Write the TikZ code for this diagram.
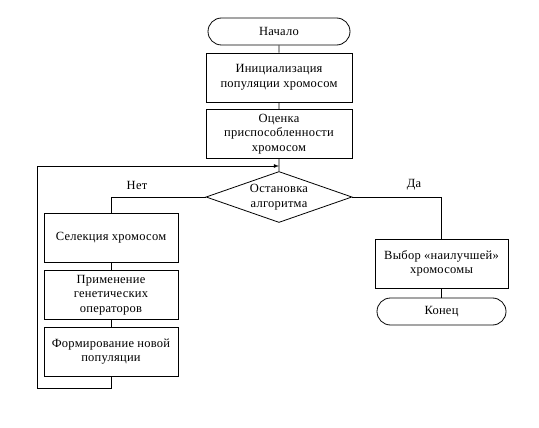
\documentclass[tikz,border=0pt]{standalone}
\usepackage{fontspec}
\setmainfont[LetterSpace=2]{Liberation Serif}
\usetikzlibrary{arrows,shapes}

\begin{document}
\begin{tikzpicture}[x=1pt,y=-1pt,line width=0.8pt,
            txt/.style={font=\fontsize{12.5}{14.5}\selectfont,align=center},
            block/.style={txt,draw,minimum width=146pt,minimum height=49pt,inner sep=2pt},
            sblock/.style={block,minimum width=134pt},
            term/.style={txt,draw,rounded rectangle,minimum width=146pt,minimum height=27pt,inner sep=2pt},
            cond/.style={draw,diamond,minimum width=146pt,minimum height=51pt,inner sep=0pt}]
            \useasboundingbox (0,0) rectangle (539,428);
            % main column
            \node[term] (start) at (279,31.5) {Начало};
            \node[block] (init) at (279,77.5) {Инициализация\\популяции хромосом};
            \node[block] (eval) at (279,134) {Оценка\\приспособленности\\хромосом};
            \node[cond] (stop) at (279,197) {};
            \node[txt] (stoptxt) at (stop) {Остановка\\алгоритма};
            % left branch
            \node[sblock] (sel) at (111,237.5) {Селекция хромосом};
            \node[sblock] (oper) at (111,295) {Применение\\генетических\\операторов};
            \node[sblock] (form) at (111,351.5) {Формирование новой\\популяции};
            % right branch
            \node[sblock,minimum width=133pt] (best) at (441.5,263.5) {Выбор «наилучшей»\\хромосомы};
            \node[term,minimum width=133pt] (finish) at (441.5,311.5) {Конец};
            \node[txt] (no) at (137,185) {Нет};
            \node[txt] (yes) at (414,185) {Да};
            \coordinate (loopin) at (279,166);
            \coordinate (loopbl) at (37,388);
            \draw (start)--(init)--(eval)--(stop);
            \draw (stop.west) -| (sel.north);
            \draw (sel)--(oper)--(form);
            \draw[-latex] (form.south) |- (loopbl) |- (loopin);
            \draw (stop.east) -| (best.north);
            \draw (best)--(finish);
        \end{tikzpicture}
\end{document}
